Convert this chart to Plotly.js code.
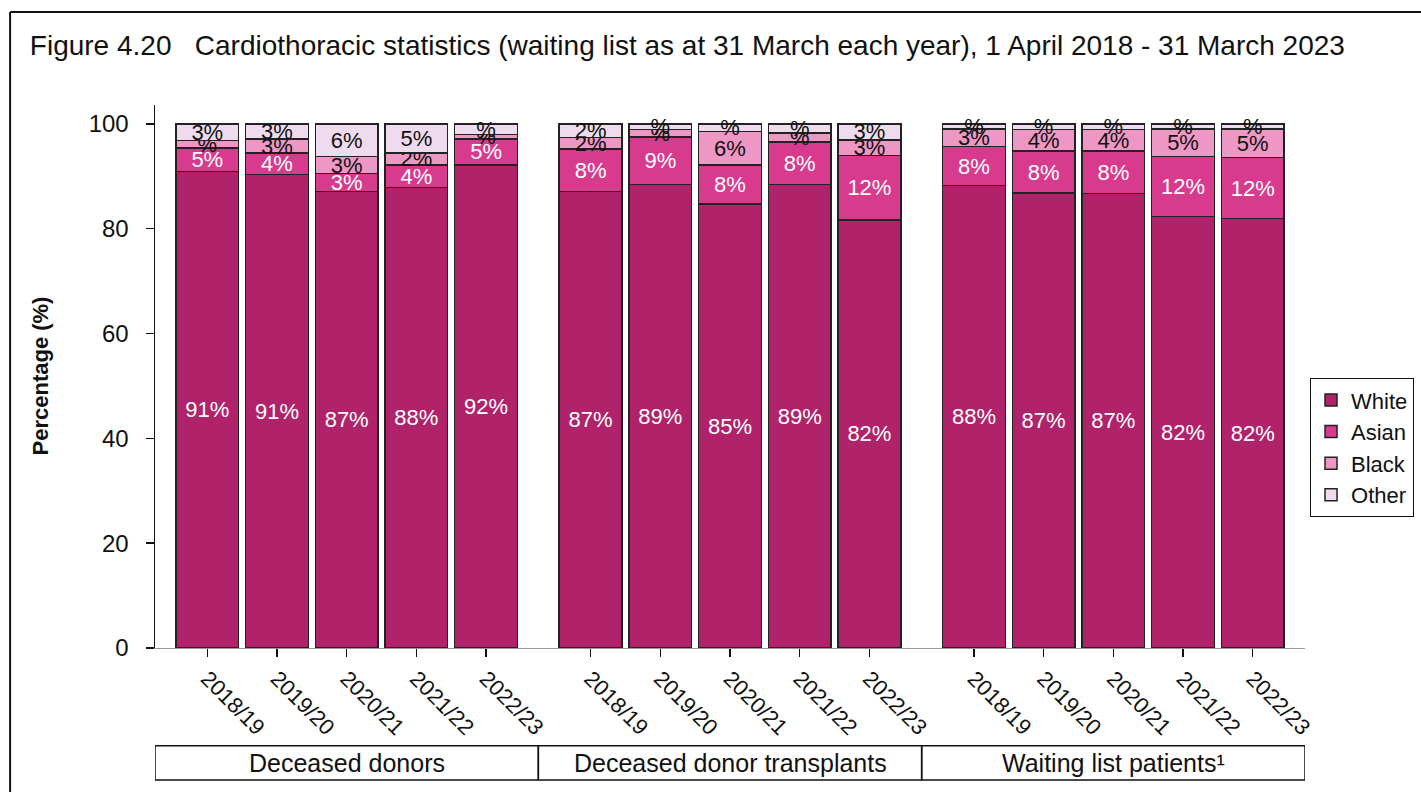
<!DOCTYPE html>
<html>
<head>
<meta charset="utf-8">
<script src="https://cdn.plot.ly/plotly-3.0.1.min.js"></script>
<style>html,body{margin:0;padding:0;background:#fff;}#chart{width:1421px;height:792px;}</style>
</head>
<body>
<div id="chart"></div>
<script>
// ---- data ----
const groups = ["Deceased donors", "Deceased donor transplants", "Waiting list patients\u00b9"];
const years = ["2018/19", "2019/20", "2020/21", "2021/22", "2022/23"];

// percentages, group by group (5 years each)
const white = [90.9, 90.3, 87.1, 87.9, 92.2,  87.1, 88.4, 84.7, 88.4, 81.7,  88.2, 86.8, 86.7, 82.3, 81.9];
const asian = [4.5, 4.1, 3.4, 4.3, 4.9,       8.1, 9.1, 7.5, 8.1, 12.3,      7.5, 8.0, 8.1, 11.5, 11.7];
const black = [1.4, 2.7, 3.3, 2.2, 0.9,       2.2, 1.4, 6.3, 1.8, 2.9,       3.3, 4.1, 4.1, 5.2, 5.4];
const other = [3.2, 2.9, 6.2, 5.6, 2.0,       2.6, 1.1, 1.5, 1.7, 3.1,       1.0, 1.1, 1.1, 1.0, 1.0];

// labels as printed on the chart
const whiteLbl = ["91%","91%","87%","88%","92%", "87%","89%","85%","89%","82%", "88%","87%","87%","82%","82%"];
const asianLbl = ["5%","4%","3%","4%","5%", "8%","9%","8%","8%","12%", "8%","8%","8%","12%","12%"];
const blackLbl = ["%","3%","3%","2%","%", "2%","%","6%","%","3%", "3%","4%","4%","5%","5%"];
const otherLbl = ["3%","3%","6%","5%","%", "2%","%","%","%","3%", "%","%","%","%","%"];

const seriesNames = ["White", "Asian", "Black", "Other"];
const colors = ["#B0236A", "#D83B8D", "#EE97C4", "#EEDCEE"];
const textColors = ["#ffffff", "#ffffff", "#111111", "#111111"];

// ---- positions: 5 slots per group, extra half-slot gap between groups ----
const groupGap = 1.5;
const xpos = [], tickText = [];
groups.forEach((g, gi) => {
  years.forEach((y, yi) => {
    xpos.push(gi * (years.length - 1 + groupGap) + yi);
    tickText.push(y);
  });
});

const FONT = "Arial, 'Liberation Sans', sans-serif";
const values = [white, asian, black, other];
const labels = [whiteLbl, asianLbl, blackLbl, otherLbl];

const traces = seriesNames.map((name, i) => ({
  type: "bar",
  name: name,
  x: xpos,
  y: values[i],
  text: labels[i],
  textposition: "inside",
  insidetextanchor: "middle",
  textangle: 0,
  constraintext: "none",
  cliponaxis: false,
  insidetextfont: {family: FONT, size: 22, color: textColors[i]},
  marker: {color: colors[i], line: {color: "#222", width: 1.5}},
  width: 0.9,
  hoverinfo: "name+y"
}));

// group boxes below the axis
const shapes = [];
const annotations = [];
groups.forEach((g, gi) => {
  const first = xpos[gi * years.length];
  const last = xpos[gi * years.length + years.length - 1];
  const x0 = first - 0.75, x1 = last + 0.75;
  shapes.push({type: "rect", xref: "x", yref: "paper", x0: x0, x1: x1, y0: -0.243, y1: -0.180,
               line: {color: "#111", width: 1.5}, fillcolor: "rgba(0,0,0,0)"});
  annotations.push({xref: "x", yref: "paper", x: (x0 + x1) / 2, y: -0.2115, text: g, showarrow: false,
                    xanchor: "center", yanchor: "middle", font: {family: FONT, size: 25, color: "#111"}});
});
// outer frame (top and left edge)
shapes.push({type: "line", xref: "paper", yref: "paper", x0: -0.126, x1: 1.2, y0: 1.1713, y1: 1.1713, line: {color: "#111", width: 2}});
shapes.push({type: "line", xref: "paper", yref: "paper", x0: -0.126, x1: -0.126, y0: 1.1713, y1: -0.4, line: {color: "#111", width: 2}});

// y axis title
annotations.push({xref: "paper", yref: "paper", x: -0.1, y: 0.5, text: "<b>Percentage (%)</b>", showarrow: false,
                  textangle: -90, xanchor: "center", yanchor: "middle", font: {family: FONT, size: 22, color: "#111"}});

const layout = {
  width: 1421, height: 792,
  margin: {l: 155, r: 116, t: 105, b: 144},
  paper_bgcolor: "#fff", plot_bgcolor: "#fff",
  barmode: "stack",
  font: {family: FONT, color: "#111"},
  title: {text: "Figure 4.20   Cardiothoracic statistics (waiting list as at 31 March each year), 1 April 2018 - 31 March 2023",
          xref: "container", yref: "container", x: 0.021, xanchor: "left", y: 0.943, yanchor: "middle",
          font: {family: FONT, size: 28, color: "#111"}},
  xaxis: {range: [-0.75, 15.75], tickvals: xpos, ticktext: tickText, tickangle: 45,
          tickfont: {family: FONT, size: 22, color: "#111"},
          ticks: "outside", ticklen: 8, tickwidth: 1.5, tickcolor: "#111",
          showline: true, linecolor: "#999", linewidth: 1, showgrid: false, zeroline: false, fixedrange: true},
  yaxis: {range: [0, 103.6], tickvals: [0, 20, 40, 60, 80, 100],
          tickfont: {family: FONT, size: 24, color: "#111"},
          ticks: "outside", ticklen: 8, tickwidth: 1.5, tickcolor: "#111", ticklabelstandoff: 12,
          showline: true, linecolor: "#111", linewidth: 1.5, showgrid: false, zeroline: false, fixedrange: true},
  legend: {xref: "container", x: 0.9219, xanchor: "left", yref: "paper", y: 0.497, yanchor: "top", traceorder: "normal",
           bordercolor: "#111", borderwidth: 1, bgcolor: "#fff",
           font: {family: FONT, size: 22, color: "#111"}, itemwidth: 30, tracegroupgap: 0},
  shapes: shapes,
  annotations: annotations,
  showlegend: true
};

Plotly.newPlot("chart", traces, layout, {displayModeBar: false, staticPlot: true});
</script>
</body>
</html>
